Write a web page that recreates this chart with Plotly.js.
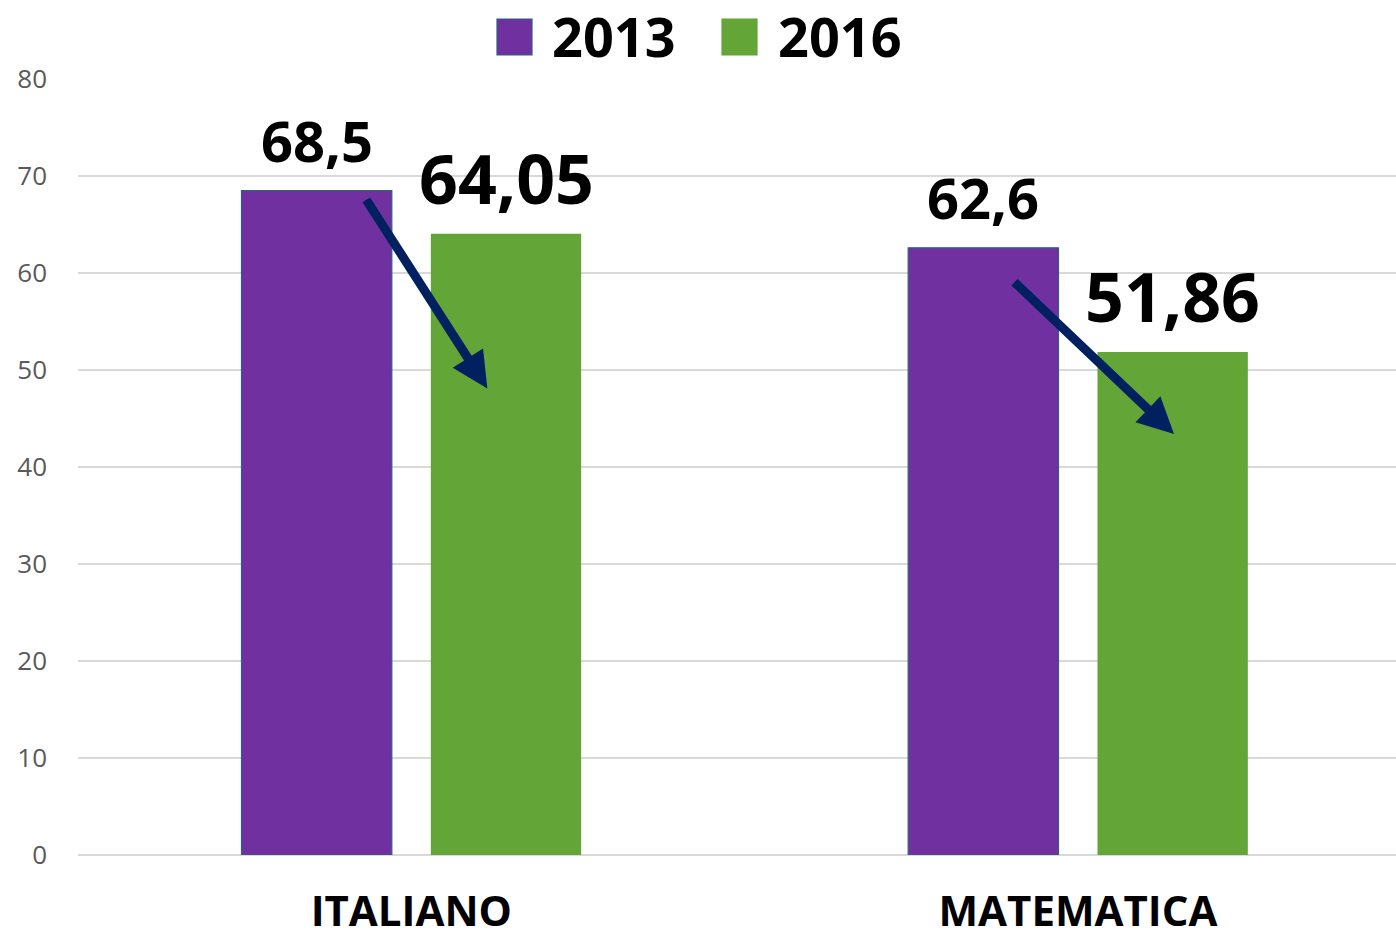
<!DOCTYPE html>
<html>
<head>
<meta charset="utf-8">
<script src="https://cdn.plot.ly/plotly-3.0.1.min.js"></script>
<style>html,body{margin:0;padding:0;background:#fff;}#chart{width:1396px;height:944px;}</style>
</head>
<body>
<div id="chart"></div>
<script>
// ---- data ----
const categories = ['ITALIANO', 'MATEMATICA'];
const seriesNames = ['2013', '2016'];
const values2013 = [68.5, 62.6];
const values2016 = [64.05, 51.86];
const yTicks = [0, 10, 20, 30, 40, 50, 60, 70, 80];
// trend arrows: [tail x, tail y, head x, head y] in category index / value units
const arrowItaliano = [-0.069, 67.7, 0.114, 48.1];
const arrowMatematica = [0.9025, 59.2, 1.144, 43.4];

// ---- style ----
const colors = ['#7030A0', '#63A537'];
const FONT = 'Open Sans, Lato, sans-serif';

const W = 1396, H = 944, ML = 78, MR = 0, MT = 79, MB = 89;
const PW = W - ML - MR, PH = H - MT - MB;
const px = x => (x - ML) / PW;
const py = y => (H - MB - y) / PH;

const BARGAP = 0.432, BARGROUPGAP = 0.206;
const slot = (1 - BARGAP) / 2;           // width of one bar slot in category units
const offsets = [-slot / 2, slot / 2];   // bar centre offsets within a group

const traces = [
  {
    type: 'bar', name: seriesNames[0], x: categories, y: values2013,
    marker: {color: colors[0], line: {color: '#2E6080', width: 1.2}},
    hoverinfo: 'skip'
  },
  {
    type: 'bar', name: seriesNames[1], x: categories, y: values2016,
    marker: {color: colors[1], line: {width: 0}},
    hoverinfo: 'skip'
  }
];

const fmt = v => String(v).replace('.', ',');
const labelSizes = [56, 68];
const labelShift = [11, 8];
const labelAnn = [];
[values2013, values2016].forEach((vals, s) => {
  vals.forEach((v, i) => {
    labelAnn.push({
      xref: 'x', yref: 'y', x: i + offsets[s], y: v,
      xanchor: 'center', yanchor: 'bottom', yshift: labelShift[s],
      showarrow: false, text: fmt(v),
      font: {family: FONT, size: labelSizes[s], weight: 700, color: '#000'}
    });
  });
});

function arrow(a) {
  return {
    xref: 'x', yref: 'y', axref: 'x', ayref: 'y',
    x: a[2], y: a[3], ax: a[0], ay: a[1],
    text: '', showarrow: true, arrowhead: 2, arrowsize: 0.8,
    arrowwidth: 9, arrowcolor: '#002060', standoff: 0, startstandoff: 0
  };
}

const legendShapes = [];
const legendAnn = [];
const legendBoxes = [[497, 550], [722, 776]];
seriesNames.forEach((n, i) => {
  const [bx, tx] = legendBoxes[i];
  legendShapes.push({
    type: 'rect', xref: 'paper', yref: 'paper',
    x0: px(bx), x1: px(bx + 35), y0: py(55), y1: py(19),
    fillcolor: colors[i],
    line: {color: i === 0 ? '#2E6080' : colors[i], width: 1.2}
  });
  legendAnn.push({
    xref: 'paper', yref: 'paper', x: px(tx), y: py(36.5),
    xanchor: 'left', yanchor: 'middle', showarrow: false,
    text: n, font: {family: FONT, size: 54, weight: 700, color: '#000'}
  });
});

const layout = {
  width: W, height: H,
  margin: {l: ML, r: MR, t: MT, b: MB, pad: 0},
  paper_bgcolor: '#fff', plot_bgcolor: '#fff',
  barmode: 'group', bargap: BARGAP, bargroupgap: BARGROUPGAP,
  showlegend: false,
  xaxis: {
    type: 'category', range: [-0.5, 1.477],
    showgrid: false, zeroline: false, showline: false, ticks: '',
    tickfont: {family: FONT, size: 42, weight: 700, color: '#000'},
    ticklabelstandoff: 28
  },
  yaxis: {
    range: [0, 80], tickvals: yTicks, ticktext: yTicks.map(String),
    showgrid: true, gridcolor: '#D9D9D9', gridwidth: 1.5,
    zeroline: true, zerolinecolor: '#D9D9D9', zerolinewidth: 1.5,
    showline: false, ticks: '',
    tickfont: {family: FONT, size: 26, color: '#595959'},
    ticklabelstandoff: 30
  },
  shapes: legendShapes,
  annotations: labelAnn.concat([arrow(arrowItaliano), arrow(arrowMatematica)]).concat(legendAnn)
};

Plotly.newPlot('chart', traces, layout, {displayModeBar: false, staticPlot: true});
</script>
</body>
</html>
